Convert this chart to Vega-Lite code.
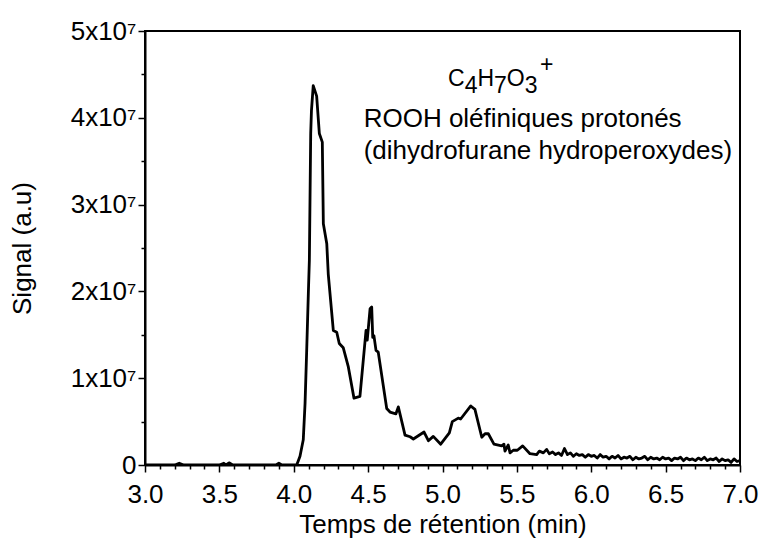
{
  "$schema": "https://vega.github.io/schema/vega-lite/v6.json",
  "width": 595,
  "height": 434,
  "autosize": {"type": "none"},
  "padding": {"left": 145, "top": 31, "right": 21, "bottom": 84},
  "background": "white",
  "config": {
    "font": "Liberation Sans",
    "view": {"stroke": "black", "strokeWidth": 2},
    "axis": {
      "domainColor": "black", "domainWidth": 2, "tickColor": "black", "tickWidth": 1.5,
      "labelColor": "black", "titleColor": "black", "labelFont": "Liberation Sans", "titleFont": "Liberation Sans",
      "labelFontSize": 26, "titleFontSize": 26, "titleFontWeight": "normal", "grid": false
    }
  },
  "resolve": {"axis": {"x": "independent"}},
  "datasets": {
    "trace": [
      {"t": 3.0, "signal": 0}, {"t": 3.2, "signal": 0}, {"t": 3.23, "signal": 200000}, {"t": 3.26, "signal": 0},
      {"t": 3.5, "signal": 0}, {"t": 3.53, "signal": 200000}, {"t": 3.545, "signal": 0}, {"t": 3.565, "signal": 250000},
      {"t": 3.59, "signal": 0}, {"t": 3.88, "signal": 0}, {"t": 3.9, "signal": 200000}, {"t": 3.92, "signal": 0},
      {"t": 4.0, "signal": 0}, {"t": 4.02, "signal": 0}, {"t": 4.042, "signal": 1000000}, {"t": 4.064, "signal": 2900000},
      {"t": 4.076, "signal": 7100000}, {"t": 4.087, "signal": 13200000}, {"t": 4.098, "signal": 19700000},
      {"t": 4.105, "signal": 23600000}, {"t": 4.114, "signal": 38200000}, {"t": 4.119, "signal": 40800000},
      {"t": 4.131, "signal": 43700000}, {"t": 4.154, "signal": 42500000}, {"t": 4.172, "signal": 38200000},
      {"t": 4.192, "signal": 37200000}, {"t": 4.199, "signal": 27800000}, {"t": 4.222, "signal": 25500000},
      {"t": 4.232, "signal": 22000000}, {"t": 4.266, "signal": 15500000}, {"t": 4.289, "signal": 15300000},
      {"t": 4.306, "signal": 14000000}, {"t": 4.333, "signal": 13500000}, {"t": 4.367, "signal": 11300000},
      {"t": 4.405, "signal": 7700000}, {"t": 4.445, "signal": 7900000}, {"t": 4.486, "signal": 15500000},
      {"t": 4.494, "signal": 14400000}, {"t": 4.513, "signal": 18000000}, {"t": 4.524, "signal": 18200000},
      {"t": 4.531, "signal": 14700000}, {"t": 4.539, "signal": 14900000}, {"t": 4.553, "signal": 13200000},
      {"t": 4.568, "signal": 13000000}, {"t": 4.625, "signal": 6500000}, {"t": 4.647, "signal": 6100000},
      {"t": 4.687, "signal": 5900000}, {"t": 4.703, "signal": 6700000}, {"t": 4.748, "signal": 3450000},
      {"t": 4.782, "signal": 3250000}, {"t": 4.804, "signal": 3000000}, {"t": 4.876, "signal": 3800000},
      {"t": 4.905, "signal": 2800000}, {"t": 4.938, "signal": 3300000}, {"t": 4.988, "signal": 2400000},
      {"t": 5.046, "signal": 3700000}, {"t": 5.066, "signal": 5000000}, {"t": 5.106, "signal": 5400000},
      {"t": 5.122, "signal": 5300000}, {"t": 5.19, "signal": 6800000}, {"t": 5.218, "signal": 6400000},
      {"t": 5.264, "signal": 3200000}, {"t": 5.286, "signal": 3600000}, {"t": 5.308, "signal": 3600000},
      {"t": 5.346, "signal": 2400000}, {"t": 5.398, "signal": 2200000}, {"t": 5.413, "signal": 2400000},
      {"t": 5.42, "signal": 1600000}, {"t": 5.442, "signal": 2300000}, {"t": 5.454, "signal": 1400000},
      {"t": 5.476, "signal": 1700000}, {"t": 5.503, "signal": 1700000}, {"t": 5.539, "signal": 2200000},
      {"t": 5.588, "signal": 1300000}, {"t": 5.633, "signal": 1200000}, {"t": 5.651, "signal": 1600000},
      {"t": 5.678, "signal": 1400000}, {"t": 5.7, "signal": 1800000}, {"t": 5.718, "signal": 1300000},
      {"t": 5.74, "signal": 1500000}, {"t": 5.76, "signal": 1200000}, {"t": 5.78, "signal": 1400000},
      {"t": 5.8, "signal": 1100000}, {"t": 5.82, "signal": 1900000}, {"t": 5.84, "signal": 1200000},
      {"t": 5.86, "signal": 1400000}, {"t": 5.88, "signal": 1000000}, {"t": 5.9, "signal": 1300000},
      {"t": 5.92, "signal": 1100000}, {"t": 5.94, "signal": 1200000}, {"t": 5.96, "signal": 900000},
      {"t": 5.98, "signal": 1200000}, {"t": 6.0, "signal": 1000000}, {"t": 6.02, "signal": 1100000},
      {"t": 6.04, "signal": 800000}, {"t": 6.06, "signal": 1200000}, {"t": 6.08, "signal": 900000},
      {"t": 6.1, "signal": 1000000}, {"t": 6.12, "signal": 700000}, {"t": 6.14, "signal": 1000000},
      {"t": 6.16, "signal": 800000}, {"t": 6.18, "signal": 1100000}, {"t": 6.2, "signal": 700000},
      {"t": 6.22, "signal": 900000}, {"t": 6.24, "signal": 800000}, {"t": 6.26, "signal": 1000000},
      {"t": 6.28, "signal": 600000}, {"t": 6.3, "signal": 900000}, {"t": 6.32, "signal": 700000},
      {"t": 6.34, "signal": 800000}, {"t": 6.36, "signal": 1000000}, {"t": 6.38, "signal": 600000},
      {"t": 6.4, "signal": 900000}, {"t": 6.42, "signal": 700000}, {"t": 6.44, "signal": 800000},
      {"t": 6.46, "signal": 600000}, {"t": 6.48, "signal": 900000}, {"t": 6.5, "signal": 700000},
      {"t": 6.52, "signal": 800000}, {"t": 6.54, "signal": 500000}, {"t": 6.56, "signal": 800000},
      {"t": 6.58, "signal": 700000}, {"t": 6.6, "signal": 900000}, {"t": 6.62, "signal": 500000},
      {"t": 6.64, "signal": 800000}, {"t": 6.66, "signal": 600000}, {"t": 6.68, "signal": 700000},
      {"t": 6.7, "signal": 500000}, {"t": 6.72, "signal": 800000}, {"t": 6.74, "signal": 600000},
      {"t": 6.76, "signal": 900000}, {"t": 6.78, "signal": 500000}, {"t": 6.8, "signal": 700000},
      {"t": 6.82, "signal": 600000}, {"t": 6.84, "signal": 800000}, {"t": 6.86, "signal": 400000},
      {"t": 6.88, "signal": 700000}, {"t": 6.9, "signal": 500000}, {"t": 6.92, "signal": 600000},
      {"t": 6.94, "signal": 300000}, {"t": 6.96, "signal": 700000}, {"t": 6.98, "signal": 400000},
      {"t": 7.0, "signal": 500000}
    ],
    "formula": [
      {"t": 5.037, "signal": 43660000, "txt": "C"},
      {"t": 5.149, "signal": 42860000, "txt": "4"},
      {"t": 5.235, "signal": 43660000, "txt": "H"},
      {"t": 5.346, "signal": 42860000, "txt": "7"},
      {"t": 5.432, "signal": 43660000, "txt": "O"},
      {"t": 5.553, "signal": 42860000, "txt": "3"},
      {"t": 5.655, "signal": 45280000, "txt": "+"}
    ],
    "notes": [
      {"t": 4.47, "signal": 38940000, "txt": "ROOH oléfiniques protonés"},
      {"t": 4.47, "signal": 35250000, "txt": "(dihydrofurane hydroperoxydes)"}
    ]
  },
  "layer": [
    {
      "data": {"name": "trace"},
      "mark": {"type": "line", "color": "black", "strokeWidth": 2.8, "strokeJoin": "round", "clip": true},
      "encoding": {
        "x": {
          "field": "t", "type": "quantitative",
          "scale": {"domain": [3, 7], "nice": false, "zero": false},
          "axis": {
            "orient": "bottom",
            "title": "Temps de rétention (min)",
            "values": [3.0, 3.5, 4.0, 4.5, 5.0, 5.5, 6.0, 6.5, 7.0],
            "format": ".1f",
            "labelOverlap": false,
            "labelFlush": false,
            "tickSize": 7,
            "labelPadding": 9,
            "titlePadding": 4
          }
        },
        "y": {
          "field": "signal", "type": "quantitative",
          "scale": {"domain": [0, 50000000], "nice": false},
          "axis": {
            "title": "Signal (a.u)",
            "values": [0, 5000000, 10000000, 15000000, 20000000, 25000000, 30000000, 35000000, 40000000, 45000000, 50000000],
            "labelExpr": "datum.value == 0 ? '0' : (datum.value % 10000000 == 0 ? format(datum.value/10000000, 'd') + 'x10⁷' : '')",
            "labelOverlap": false,
            "labelFlush": false,
            "tickSize": {"condition": {"test": "datum.value % 10000000 == 0", "value": 7}, "value": 4},
            "labelPadding": 2,
            "titlePadding": 35
          }
        }
      }
    },
    {
      "data": {"name": "formula"},
      "mark": {"type": "text", "align": "left", "baseline": "alphabetic", "fontSize": 23, "font": "Liberation Sans", "color": "black"},
      "encoding": {
        "x": {"field": "t", "type": "quantitative", "axis": null},
        "y": {"field": "signal", "type": "quantitative"},
        "text": {"field": "txt"}
      }
    },
    {
      "data": {"name": "notes"},
      "mark": {"type": "text", "align": "left", "baseline": "alphabetic", "fontSize": 26, "font": "Liberation Sans", "color": "black"},
      "encoding": {
        "x": {
          "field": "t", "type": "quantitative",
          "axis": {
            "orient": "bottom",
            "title": null,
            "values": [3.1,3.2,3.3,3.4,3.6,3.7,3.8,3.9,4.1,4.2,4.3,4.4,4.6,4.7,4.8,4.9,5.1,5.2,5.3,5.4,5.6,5.7,5.8,5.9,6.1,6.2,6.3,6.4,6.6,6.7,6.8,6.9],
            "labels": false,
            "domain": false,
            "tickSize": 4
          }
        },
        "y": {"field": "signal", "type": "quantitative"},
        "text": {"field": "txt"}
      }
    }
  ]
}
